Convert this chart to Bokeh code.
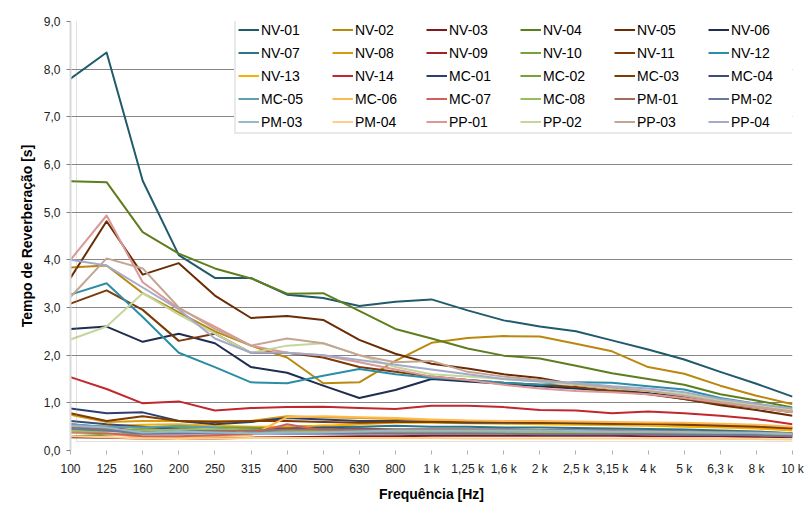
from bokeh.plotting import figure
from bokeh.models import Range1d, FixedTicker, Legend, LegendItem, BoxAnnotation
from bokeh.embed import file_html
from bokeh.resources import INLINE

FREQ_LABELS = ["100", "125", "160", "200", "250", "315", "400", "500", "630", "800",
               "1 k", "1,25 k", "1,6 k", "2 k", "2,5 k", "3,15 k", "4 k", "5 k",
               "6,3 k", "8 k", "10 k"]
Y_TICKS = [0, 1, 2, 3, 4, 5, 6, 7, 8, 9]
Y_LABELS = ["0,0", "1,0", "2,0", "3,0", "4,0", "5,0", "6,0", "7,0", "8,0", "9,0"]

NV_01 = [7.80, 8.35, 5.66, 4.10, 3.62, 3.62, 3.27, 3.20, 3.03, 3.12, 3.17, 2.94, 2.73, 2.60, 2.50, 2.31, 2.12, 1.91, 1.65, 1.40, 1.13]
NV_02 = [3.84, 3.88, 3.30, 2.90, 2.50, 2.20, 1.95, 1.41, 1.43, 1.88, 2.26, 2.36, 2.40, 2.39, 2.24, 2.08, 1.75, 1.61, 1.36, 1.15, 0.97]
NV_03 = [0.28, 0.27, 0.25, 0.24, 0.25, 0.27, 0.28, 0.29, 0.30, 0.30, 0.31, 0.31, 0.31, 0.31, 0.31, 0.31, 0.30, 0.30, 0.30, 0.29, 0.28]
NV_04 = [5.65, 5.63, 4.58, 4.13, 3.82, 3.61, 3.29, 3.30, 2.93, 2.55, 2.35, 2.14, 1.99, 1.93, 1.78, 1.62, 1.50, 1.38, 1.18, 1.05, 0.90]
NV_05 = [3.62, 4.81, 3.69, 3.93, 3.25, 2.78, 2.82, 2.74, 2.32, 2.03, 1.82, 1.72, 1.60, 1.52, 1.38, 1.30, 1.20, 1.08, 0.95, 0.85, 0.73]
NV_06 = [2.55, 2.60, 2.28, 2.45, 2.25, 1.75, 1.63, 1.36, 1.10, 1.27, 1.50, 1.45, 1.40, 1.35, 1.30, 1.25, 1.20, 1.12, 1.00, 0.92, 0.82]
NV_07 = [0.48, 0.45, 0.42, 0.40, 0.42, 0.45, 0.50, 0.52, 0.50, 0.52, 0.50, 0.50, 0.48, 0.48, 0.47, 0.46, 0.45, 0.44, 0.42, 0.40, 0.36]
NV_08 = [0.75, 0.60, 0.62, 0.62, 0.62, 0.62, 0.72, 0.70, 0.68, 0.66, 0.64, 0.62, 0.60, 0.58, 0.57, 0.56, 0.55, 0.54, 0.52, 0.50, 0.46]
NV_09 = [0.55, 0.48, 0.40, 0.38, 0.36, 0.36, 0.38, 0.38, 0.39, 0.40, 0.40, 0.40, 0.40, 0.40, 0.40, 0.40, 0.39, 0.38, 0.37, 0.36, 0.34]
NV_10 = [0.30, 0.33, 0.35, 0.38, 0.42, 0.45, 0.45, 0.44, 0.43, 0.42, 0.42, 0.41, 0.40, 0.40, 0.40, 0.39, 0.38, 0.38, 0.37, 0.36, 0.34]
NV_11 = [3.08, 3.36, 2.95, 2.30, 2.45, 2.05, 2.05, 1.95, 1.75, 1.65, 1.55, 1.48, 1.42, 1.38, 1.33, 1.25, 1.18, 1.08, 0.98, 0.90, 0.80]
NV_12 = [3.27, 3.51, 2.80, 2.05, 1.75, 1.43, 1.41, 1.57, 1.71, 1.60, 1.52, 1.48, 1.42, 1.38, 1.43, 1.42, 1.35, 1.28, 1.10, 0.98, 0.85]
NV_13 = [0.50, 0.52, 0.54, 0.55, 0.52, 0.50, 0.50, 0.52, 0.55, 0.58, 0.58, 0.57, 0.56, 0.55, 0.54, 0.53, 0.52, 0.50, 0.48, 0.46, 0.42]
NV_14 = [1.54, 1.29, 0.99, 1.03, 0.84, 0.89, 0.91, 0.92, 0.89, 0.87, 0.94, 0.94, 0.91, 0.85, 0.84, 0.78, 0.82, 0.78, 0.73, 0.66, 0.55]
MC_01 = [0.88, 0.78, 0.80, 0.62, 0.55, 0.60, 0.68, 0.65, 0.62, 0.62, 0.60, 0.58, 0.58, 0.58, 0.57, 0.56, 0.56, 0.55, 0.54, 0.52, 0.48]
MC_02 = [0.45, 0.42, 0.45, 0.48, 0.48, 0.48, 0.44, 0.40, 0.39, 0.38, 0.38, 0.38, 0.37, 0.37, 0.37, 0.36, 0.36, 0.36, 0.35, 0.34, 0.32]
MC_03 = [0.78, 0.62, 0.72, 0.62, 0.60, 0.62, 0.62, 0.60, 0.58, 0.60, 0.60, 0.60, 0.60, 0.58, 0.58, 0.57, 0.56, 0.54, 0.52, 0.50, 0.46]
MC_04 = [0.62, 0.55, 0.50, 0.45, 0.42, 0.44, 0.46, 0.48, 0.46, 0.44, 0.44, 0.44, 0.44, 0.43, 0.42, 0.42, 0.41, 0.40, 0.38, 0.37, 0.35]
MC_05 = [0.55, 0.50, 0.48, 0.52, 0.48, 0.40, 0.38, 0.38, 0.38, 0.38, 0.38, 0.38, 0.38, 0.38, 0.37, 0.37, 0.36, 0.36, 0.35, 0.34, 0.32]
MC_06 = [0.42, 0.35, 0.28, 0.28, 0.30, 0.32, 0.70, 0.72, 0.70, 0.68, 0.65, 0.63, 0.62, 0.62, 0.61, 0.60, 0.59, 0.58, 0.56, 0.54, 0.50]
MC_07 = [0.38, 0.36, 0.30, 0.30, 0.32, 0.35, 0.55, 0.42, 0.38, 0.36, 0.36, 0.36, 0.36, 0.35, 0.35, 0.35, 0.34, 0.34, 0.33, 0.32, 0.30]
MC_08 = [0.40, 0.40, 0.42, 0.44, 0.44, 0.44, 0.42, 0.40, 0.40, 0.40, 0.40, 0.40, 0.39, 0.39, 0.38, 0.38, 0.38, 0.37, 0.36, 0.35, 0.33]
PM_01 = [0.50, 0.45, 0.38, 0.38, 0.40, 0.42, 0.44, 0.44, 0.44, 0.44, 0.44, 0.44, 0.43, 0.43, 0.42, 0.42, 0.41, 0.40, 0.39, 0.38, 0.36]
PM_02 = [0.45, 0.42, 0.35, 0.35, 0.36, 0.36, 0.35, 0.35, 0.35, 0.35, 0.35, 0.35, 0.35, 0.34, 0.34, 0.34, 0.34, 0.33, 0.33, 0.32, 0.30]
PM_03 = [0.52, 0.48, 0.38, 0.40, 0.38, 0.36, 0.37, 0.38, 0.40, 0.42, 0.42, 0.42, 0.42, 0.42, 0.41, 0.40, 0.40, 0.39, 0.38, 0.37, 0.35]
PM_04 = [0.30, 0.28, 0.25, 0.24, 0.25, 0.26, 0.26, 0.26, 0.26, 0.26, 0.26, 0.25, 0.25, 0.25, 0.25, 0.25, 0.25, 0.24, 0.24, 0.24, 0.23]
PP_01 = [4.00, 4.93, 3.53, 2.98, 2.60, 2.20, 2.05, 2.00, 1.85, 1.70, 1.55, 1.48, 1.38, 1.30, 1.25, 1.22, 1.18, 1.10, 1.00, 0.90, 0.80]
PP_02 = [2.33, 2.60, 3.30, 2.85, 2.45, 2.05, 2.20, 2.25, 2.00, 1.75, 1.60, 1.55, 1.50, 1.45, 1.38, 1.30, 1.25, 1.18, 1.05, 0.95, 0.85]
PP_03 = [3.22, 4.03, 3.82, 3.00, 2.55, 2.20, 2.35, 2.25, 2.00, 1.85, 1.88, 1.65, 1.55, 1.48, 1.40, 1.32, 1.25, 1.15, 1.02, 0.92, 0.82]
PP_04 = [4.00, 3.88, 3.42, 2.96, 2.35, 2.05, 2.05, 2.00, 1.90, 1.80, 1.70, 1.60, 1.50, 1.45, 1.42, 1.35, 1.30, 1.22, 1.08, 0.98, 0.88]

SERIES_NAMES = ["NV-01", "NV-02", "NV-03", "NV-04", "NV-05", "NV-06",
                "NV-07", "NV-08", "NV-09", "NV-10", "NV-11", "NV-12",
                "NV-13", "NV-14", "MC-01", "MC-02", "MC-03", "MC-04",
                "MC-05", "MC-06", "MC-07", "MC-08", "PM-01", "PM-02",
                "PM-03", "PM-04", "PP-01", "PP-02", "PP-03", "PP-04"]
SERIES_VALUES = [NV_01, NV_02, NV_03, NV_04, NV_05, NV_06,
                 NV_07, NV_08, NV_09, NV_10, NV_11, NV_12,
                 NV_13, NV_14, MC_01, MC_02, MC_03, MC_04,
                 MC_05, MC_06, MC_07, MC_08, PM_01, PM_02,
                 PM_03, PM_04, PP_01, PP_02, PP_03, PP_04]
SERIES_COLORS = ["#1F5B6B", "#BA880E", "#7F1A1A", "#5E7E1E", "#6B2C05", "#1F2D50",
                 "#2A7689", "#D89A0A", "#A32228", "#78A03C", "#7A3A0A", "#2B8EA6",
                 "#F5B000", "#C0282D", "#2E3E6E", "#77A03A", "#7E3C00", "#3A4B7E",
                 "#5E9FB2", "#FDB84E", "#D0605E", "#9CBB5E", "#A56A5A", "#6A78A0",
                 "#96BACB", "#FFCE8A", "#DB9896", "#C3D69D", "#C4A594", "#A3ABC8"]

FONT = "Liberation Sans"

x_pos = list(range(len(FREQ_LABELS)))

p = figure(width=807, height=509, output_backend="svg", toolbar_location=None,
           x_range=Range1d(0, len(FREQ_LABELS) - 1), y_range=Range1d(0, 9),
           min_border_left=70, min_border_right=15, min_border_top=21, min_border_bottom=59)
p.outline_line_color = None
p.background_fill_color = "white"
p.border_fill_color = "white"

items = []
for name, vals, col in zip(SERIES_NAMES, SERIES_VALUES, SERIES_COLORS):
    r = p.line(x_pos, vals, line_color=col, line_width=2, line_join="round")
    items.append(LegendItem(label=name, renderers=[r]))

# axes
p.xaxis.ticker = FixedTicker(ticks=x_pos)
p.xaxis.major_label_overrides = {i: lab for i, lab in zip(x_pos, FREQ_LABELS)}
p.xaxis.axis_line_color = None
p.xaxis.major_tick_line_color = "#B0B0B0"
p.xaxis.major_tick_out = 4
p.xaxis.major_tick_in = 0
p.xaxis.minor_tick_line_color = None
p.xaxis.major_label_text_font = FONT
p.xaxis.major_label_text_font_size = "12px"
p.xaxis.major_label_text_color = "#222222"
p.xaxis.major_label_standoff = 7
p.xaxis.axis_label = "Frequência [Hz]"
p.xaxis.axis_label_text_font = FONT
p.xaxis.axis_label_text_font_size = "14px"
p.xaxis.axis_label_text_font_style = "bold"
p.xaxis.axis_label_text_color = "black"
p.xaxis.axis_label_standoff = 7

p.yaxis.ticker = FixedTicker(ticks=Y_TICKS)
p.yaxis.major_label_overrides = {t: lab for t, lab in zip(Y_TICKS, Y_LABELS)}
p.yaxis.axis_line_color = "#D9D9D9"
p.yaxis.axis_line_width = 2
p.yaxis.major_tick_line_color = "#808080"
p.yaxis.major_tick_out = 4
p.yaxis.major_tick_in = 0
p.yaxis.minor_tick_line_color = None
p.yaxis.major_label_text_font = FONT
p.yaxis.major_label_text_font_size = "12px"
p.yaxis.major_label_text_color = "#222222"
p.yaxis.major_label_standoff = 6
p.yaxis.axis_label = "Tempo de Reverberação [s]"
p.yaxis.axis_label_text_font = FONT
p.yaxis.axis_label_text_font_size = "14px"
p.yaxis.axis_label_text_font_style = "bold"
p.yaxis.axis_label_text_color = "black"
p.yaxis.axis_label_standoff = 6

p.xgrid.grid_line_color = None
p.ygrid.ticker = FixedTicker(ticks=Y_TICKS[1:])
p.ygrid.grid_line_color = "#868686"
p.ygrid.grid_line_width = 1

legend = Legend(items=items, orientation="horizontal", ncols=6,
                location=(164, 316), padding=2, spacing=6,
                glyph_width=21, glyph_height=17, label_height=17,
                label_width=65, label_standoff=2,
                label_text_font=FONT, label_text_font_size="14px",
                label_text_color="black", label_text_baseline="middle",
                background_fill_color="white", background_fill_alpha=1.0,
                border_line_color="#D4D4D4", border_line_width=2)
p.add_layout(legend, "center")

# outer chart-area frame (Excel chart border), in screen pixels
frame_box = BoxAnnotation(left=6, right=840, top=9, bottom=540,
                          left_units="screen", right_units="screen",
                          top_units="screen", bottom_units="screen",
                          fill_alpha=0, line_color="#9A9A9A", line_width=1,
                          editable=False)
p.add_layout(frame_box)

open("out.html", "w").write(file_html(p, INLINE))
